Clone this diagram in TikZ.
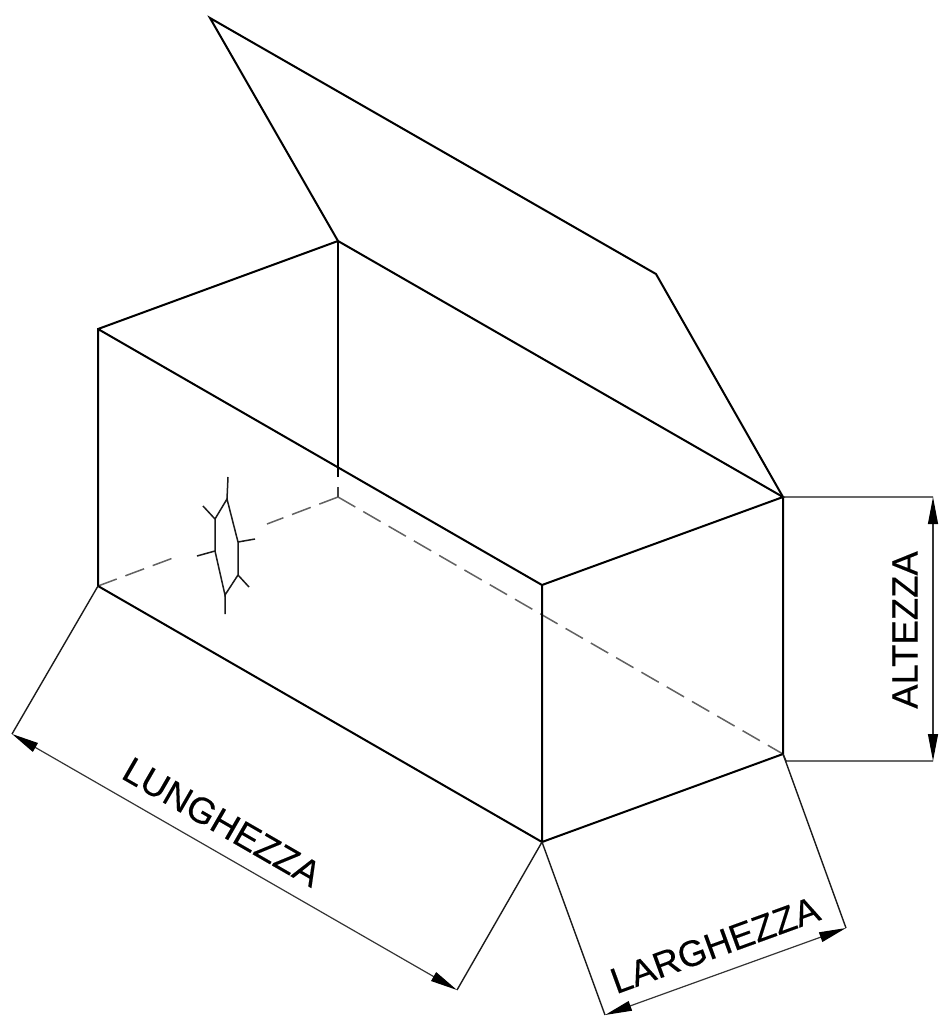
\documentclass[tikz,border=0pt]{standalone}
\usepackage{fontspec}
\setmainfont{Liberation Sans}[FakeBold=0.25]
\newfontfamily\dimfont{Liberation Sans}[FakeBold=0.25]
\usetikzlibrary{arrows.meta}
\tikzset{
  edgeline/.style={line width=2pt,black,line join=miter},
  thinline/.style={line width=1.4pt,black!90},
  crackline/.style={line width=1.5pt,black!90},
  hidden/.style={line width=1.5pt,black!62,dash pattern=on 20pt off 9.2pt},
  dimline/.style={line width=1.2pt,black!80,{Triangle[length=27pt,width=10pt,black]}-{Triangle[length=27pt,width=10pt,black]}},
  dimlabel/.style={inner sep=0pt,font=\dimfont\fontsize{36.5}{40}\selectfont}
}
\begin{document}
\begin{tikzpicture}[x=1pt,y=-1pt]
\useasboundingbox (0,0) rectangle (941,1026);
% box corners
\coordinate (A) at (98,329);
\coordinate (B) at (338,241);
\coordinate (C) at (783,497);
\coordinate (D) at (542,585);
\coordinate (E) at (98,586);
\coordinate (F) at (338,497);
\coordinate (G) at (783,754);
\coordinate (H) at (542,842);
% lid
\coordinate (L1) at (210,18);
\coordinate (L2) at (656,274);
% rear vertical break
\coordinate (V1) at (338,477);
\coordinate (V2) at (338,487);
% hidden line ends
\coordinate (EF1) at (173,558);
\coordinate (EF2) at (267,524);
% dimension points
\coordinate (E1) at (12,734);
\coordinate (H1) at (457,990);
\coordinate (H2) at (605,1015);
\coordinate (G2) at (846,928);
\coordinate (C3) at (933,497);
\coordinate (G3s) at (786,761);
\coordinate (G3) at (933,761);
% crack
\coordinate (c1) at (227,499);
\coordinate (c2) at (238,542);
\coordinate (c3) at (238,575);
\coordinate (c4) at (225,595);
\coordinate (c5) at (215,551);
\coordinate (c6) at (215,519);
\coordinate (s1) at (228,477);
\coordinate (s2) at (255,539);
\coordinate (s3) at (249,587);
\coordinate (s4) at (225,614);
\coordinate (s5) at (197,556);
\coordinate (s6) at (203,506);
% hidden lines
\draw[hidden] (E) -- (EF1);
\draw[hidden] (F) -- (EF2);
\draw[hidden] (F) -- (G);
\draw[line width=1.4pt,black!75] (V2) -- (F);
% box
\draw[edgeline] (B) -- (L1) -- (L2) -- (C);
\draw[edgeline] (E) -- (A) -- (B) -- (C) -- (D) -- (A);
\draw[edgeline] (D) -- (H) -- (E);
\draw[edgeline] (H) -- (G) -- (C);
\draw[line width=1.6pt,black] (B) -- (V1);
% crack
\draw[crackline] (c1) -- (c2) -- (c3) -- (c4) -- (c5) -- (c6) -- cycle;
\draw[crackline] (c1) -- (s1) (c2) -- (s2) (c3) -- (s3) (c4) -- (s4) (c5) -- (s5) (c6) -- (s6);
% extension lines
\draw[thinline] (E) -- (E1) (H) -- (H1) (H) -- (H2) (G) -- (G2) (C) -- (C3) (G3s) -- (G3);
\draw[thinline] (G) -- (G3s);
% dimensions
\draw[dimline] (E1) -- (H1);
\draw[dimline] (H2) -- (G2);
\draw[dimline] (C3) -- (G3);
% labels
\node[dimlabel,rotate=-30] (lung) at (222,822) {LUNGHEZZA};
\node[dimlabel,rotate=20] (larg) at (715,945) {LARGHEZZA};
\node[dimlabel,rotate=90] (alt) at (905,630) {ALTEZZA};
\end{tikzpicture}
\end{document}
